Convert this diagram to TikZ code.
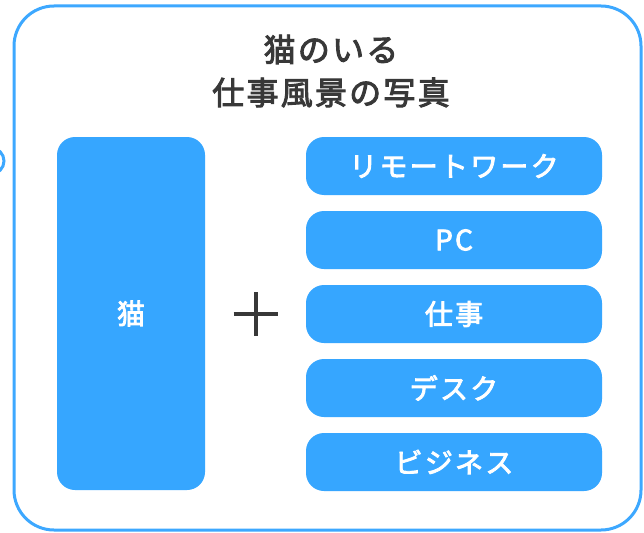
\documentclass[tikz,border=0pt]{standalone}
\usepackage{fontspec}
\newfontfamily\jpt{Noto Sans CJK JP}[FakeBold=3,LetterSpace=7]
\newfontfamily\jpb{Noto Sans CJK JP}[FakeBold=3,LetterSpace=8]
\definecolor{bblue}{HTML}{36A6FF}
\definecolor{fblue}{HTML}{3DA8FF}
\definecolor{dgray}{HTML}{383838}
\begin{document}
\begin{tikzpicture}[x=1pt,y=-1pt,
  tag/.style={fill=bblue, rounded corners=18pt, text=white, font=\jpb\fontsize{28}{30}\selectfont, inner sep=0pt, minimum width=296pt, minimum height=58pt},
  bigtag/.style={fill=bblue, rounded corners=18pt, text=white, font=\jpb\fontsize{28}{30}\selectfont, inner sep=0pt, minimum width=148pt, minimum height=353pt},
  frame/.style={draw=fblue, line width=3pt, rounded corners=40pt}]
\useasboundingbox (0,0) rectangle (644,532);
\fill[white] (0,0) rectangle (644,532);
\node[draw=fblue, line width=3pt, circle, minimum size=26pt, inner sep=0pt] (side) at (-9,161) {};
\node[frame, minimum width=627pt, minimum height=524pt, inner sep=0pt] (outer) at (327.5,268) {};
\node[font=\jpt\fontsize{32}{43}\selectfont, text=dgray, align=center] (title) at (331,71) {猫のいる\\仕事風景の写真};
\node[bigtag] (cat) at (131,313.5) {猫};
\node[tag] (t1) at (454,166) {リモートワーク};
\node[tag] (t2) at (454,240) {PC};
\node[tag] (t3) at (454,314) {仕事};
\node[tag] (t4) at (454,388) {デスク};
\node[tag] (t5) at (454,462) {ビジネス};
\coordinate (plus) at (255.5,313.5);
\draw[dgray, line width=4pt] ([xshift=-22pt]plus) -- ([xshift=22pt]plus);
\draw[dgray, line width=4pt] ([yshift=-22pt]plus) -- ([yshift=22pt]plus);
\end{tikzpicture}
\end{document}
